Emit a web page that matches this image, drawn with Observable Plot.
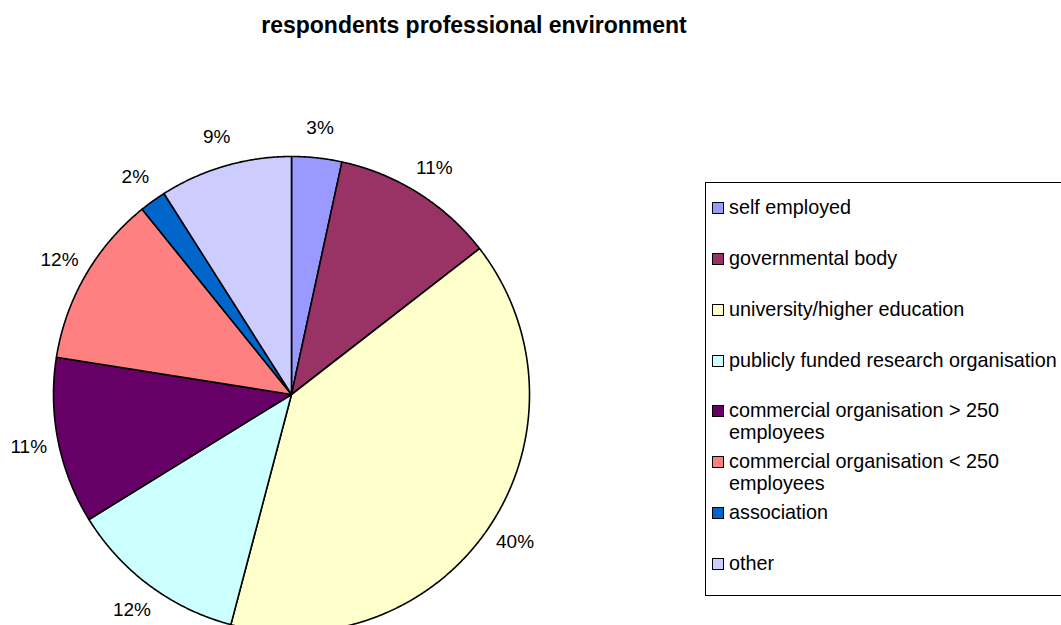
<!DOCTYPE html>
<html>
<head>
<meta charset="utf-8">
<script src="https://cdn.jsdelivr.net/npm/d3@7"></script>
<script src="https://cdn.jsdelivr.net/npm/@observablehq/plot@0.6"></script>
<style>
  html, body { margin: 0; padding: 0; background: #fff; }
  #frame { position: relative; width: 1061px; height: 625px; overflow: hidden; background: #fff;
           font-family: Arial, "Liberation Sans", sans-serif; color: #000; }
  #title { position: absolute; left: 0; width: 948px; top: 11px; text-align: center;
           font-weight: bold; font-size: 23px; line-height: 28px; }
  #chart { position: absolute; left: 0; top: 50px; }
  #legend { position: absolute; left: 705px; top: 182px; width: 420px; height: 414px;
            border: 1px solid #000; box-sizing: border-box; }
  .item { position: absolute; left: 6px; font-size: 19.8px; line-height: 22px; white-space: nowrap; }
  .sw { position: absolute; left: 0; top: 6px; width: 10px; height: 10px; border: 1px solid #000; }
  .txt { position: absolute; left: 17px; top: 0; }
</style>
</head>
<body>
<div id="frame">
  <div id="title"></div>
  <div id="chart"></div>
  <div id="legend"></div>
</div>
<script>
const titleText = "respondents professional environment";
const categories = [
  "self employed",
  "governmental body",
  "university/higher education",
  "publicly funded research organisation",
  "commercial organisation > 250 employees",
  "commercial organisation < 250 employees",
  "association",
  "other"
];
const shares = [3.4, 11.1, 39.6, 12.1, 11.3, 11.7, 1.8, 9.0];
const labels = ["3%", "11%", "40%", "12%", "11%", "12%", "2%", "9%"];
const colors = ["#9999FF", "#993366", "#FFFFCC", "#CCFFFF", "#660066", "#FF8080", "#0066CC", "#CCCCFF"];
const legendLines = [
  ["self employed"],
  ["governmental body"],
  ["university/higher education"],
  ["publicly funded research organisation"],
  ["commercial organisation > 250", "employees"],
  ["commercial organisation < 250", "employees"],
  ["association"],
  ["other"]
];

document.getElementById("title").textContent = titleText;

// pie geometry from the data
const arcs = d3.pie().sort(null).value(d => d)(shares);
const slicePts = [];
arcs.forEach((a, i) => {
  const cat = categories[i];
  slicePts.push({cat, x: 0, y: 0});
  const n = Math.max(4, Math.ceil((a.endAngle - a.startAngle) / 0.005));
  for (let k = 0; k <= n; k++) {
    const t = a.startAngle + (a.endAngle - a.startAngle) * k / n;
    slicePts.push({cat, x: Math.sin(t), y: Math.cos(t)});
  }
  slicePts.push({cat, x: 0, y: 0});
});
const labelR = 1.126;
const labelPts = arcs.map((a, i) => {
  const m = (a.startAngle + a.endAngle) / 2;
  return {label: labels[i], x: labelR * Math.sin(m), y: labelR * Math.cos(m)};
});

const cx = 291, cy = 344, R = 238;
const plot = Plot.plot({
  width: 620,
  height: 600,
  margin: 0,
  x: {domain: [-1, 1], range: [cx - R, cx + R], axis: null},
  y: {domain: [-1, 1], range: [cy + R, cy - R], axis: null},
  color: {domain: categories, range: colors},
  style: {background: "transparent", fontFamily: "Arial, 'Liberation Sans', sans-serif"},
  marks: [
    Plot.line(slicePts, {x: "x", y: "y", z: "cat", fill: "cat", stroke: "#000", strokeWidth: 1.6, strokeLinejoin: "round", curve: "linear"}),
    Plot.text(labelPts, {x: "x", y: "y", text: "label", fontSize: 19, fill: "#000", textAnchor: "middle", lineAnchor: "middle"})
  ]
});
document.getElementById("chart").appendChild(plot);

// legend
const legend = d3.select("#legend");
categories.forEach((c, i) => {
  const it = legend.append("div").attr("class", "item").style("top", (13 + i * 50.86) + "px");
  it.append("div").attr("class", "sw").style("background", colors[i]);
  const t = it.append("div").attr("class", "txt");
  legendLines[i].forEach((ln, j) => {
    if (j) t.append("br");
    t.append("span").text(ln);
  });
});
</script>
</body>
</html>
